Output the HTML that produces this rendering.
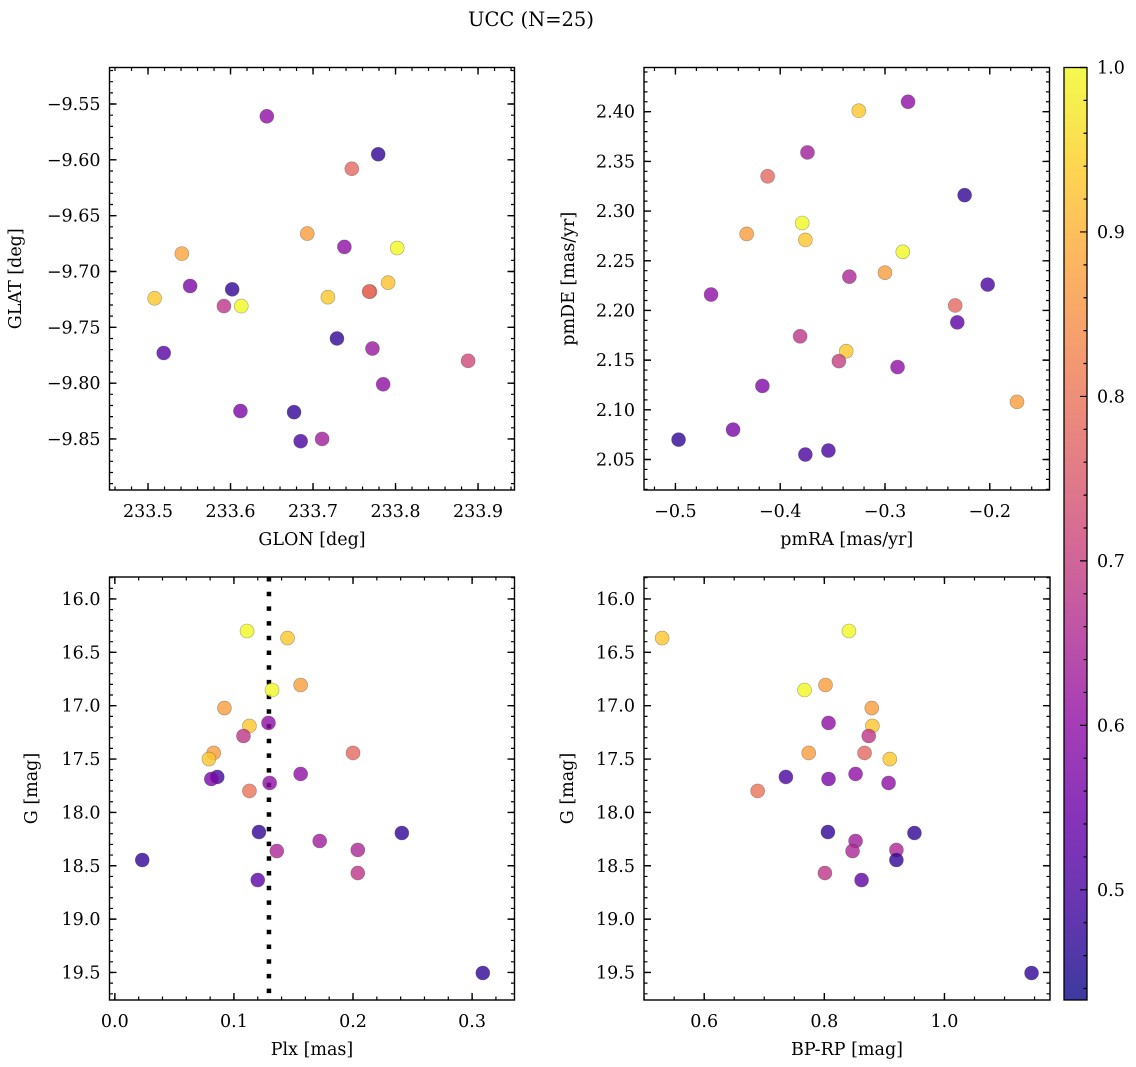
<!DOCTYPE html>
<html><head><meta charset="utf-8"><style>
html,body{margin:0;padding:0;background:#fff;}
svg{display:block;font-family:"DejaVu Serif","Liberation Serif",serif;}
</style></head><body>
<svg id="fig" width="1136" height="1067" viewBox="0 0 1136 1067" xmlns="http://www.w3.org/2000/svg">
<text x="531" y="26" font-size="19.5" text-anchor="middle" fill="#000">UCC (N=25)</text>
</svg>
<script>
// ---- data ----
const glon = [233.644,233.779,233.747,233.693,233.738,233.802,233.541,233.551,233.602,233.508,233.592,233.613,233.718,233.769,233.768,233.791,233.519,233.729,233.772,233.888,233.785,233.612,233.677,233.685,233.711];
const glat = [-9.561,-9.595,-9.608,-9.666,-9.678,-9.679,-9.684,-9.713,-9.716,-9.724,-9.731,-9.731,-9.723,-9.718,-9.718,-9.710,-9.773,-9.760,-9.769,-9.780,-9.801,-9.825,-9.826,-9.852,-9.850];
const cTL = [0.60,0.47,0.78,0.87,0.60,1.00,0.88,0.57,0.47,0.93,0.68,1.00,0.93,0.82,0.78,0.92,0.52,0.47,0.62,0.72,0.60,0.57,0.47,0.50,0.63];

const pmra = [-0.278,-0.325,-0.374,-0.412,-0.224,-0.379,-0.432,-0.376,-0.283,-0.300,-0.334,-0.466,-0.202,-0.233,-0.231,-0.381,-0.337,-0.344,-0.288,-0.417,-0.174,-0.445,-0.497,-0.354,-0.376];
const pmde = [2.410,2.401,2.359,2.335,2.316,2.288,2.277,2.271,2.259,2.238,2.234,2.216,2.226,2.205,2.188,2.174,2.159,2.149,2.143,2.124,2.108,2.080,2.070,2.059,2.055];
const cTR = [0.60,0.93,0.63,0.78,0.47,1.00,0.87,0.93,1.00,0.87,0.65,0.60,0.50,0.78,0.53,0.68,0.93,0.70,0.60,0.58,0.87,0.57,0.47,0.50,0.50];

const plx = [0.111,0.145,0.132,0.156,0.092,0.113,0.129,0.108,0.083,0.079,0.200,0.086,0.081,0.156,0.130,0.113,0.121,0.241,0.172,0.136,0.204,0.023,0.204,0.120,0.309];
const gBL = [16.300,16.366,16.853,16.806,17.022,17.190,17.162,17.284,17.443,17.500,17.443,17.668,17.687,17.640,17.724,17.799,18.184,18.193,18.268,18.362,18.352,18.446,18.568,18.634,19.505];
const cBL = [1.00,0.93,1.00,0.87,0.87,0.93,0.60,0.68,0.87,0.93,0.78,0.50,0.57,0.60,0.60,0.80,0.47,0.47,0.63,0.65,0.65,0.47,0.68,0.53,0.47];

const bprp = [0.530,0.841,0.767,0.802,0.879,0.807,0.880,0.874,0.774,0.867,0.909,0.736,0.807,0.852,0.907,0.689,0.806,0.950,0.852,0.847,0.920,0.920,0.801,0.862,1.145];
const gBR = [16.366,16.300,16.853,16.806,17.022,17.162,17.190,17.284,17.443,17.443,17.500,17.668,17.687,17.640,17.724,17.799,18.184,18.193,18.268,18.362,18.352,18.446,18.568,18.634,19.505];
const cBR = [0.93,1.00,1.00,0.87,0.87,0.60,0.93,0.68,0.87,0.78,0.93,0.50,0.57,0.60,0.60,0.80,0.47,0.47,0.63,0.65,0.65,0.47,0.68,0.53,0.47];

const plxLine = [0.1294];

const ticksTLx = [233.5,233.6,233.7,233.8,233.9];
const ticksTLy = [-9.55,-9.60,-9.65,-9.70,-9.75,-9.80,-9.85];
const ticksTRx = [-0.5,-0.4,-0.3,-0.2];
const ticksTRy = [2.05,2.10,2.15,2.20,2.25,2.30,2.35,2.40];
const ticksBLx = [0.0,0.1,0.2,0.3];
const ticksGy = [16.0,16.5,17.0,17.5,18.0,18.5,19.0,19.5];
const ticksBRx = [0.6,0.8,1.0];
const ticksCbar = [0.5,0.6,0.7,0.8,0.9,1.0];
const cMin = 0.433, cMax = 1.0;

// ---- helpers ----
const NS = "http://www.w3.org/2000/svg";
const svg = document.getElementById('fig');
function mk(tag, attrs, parent){
  const e = document.createElementNS(NS, tag);
  for (const k in attrs) e.setAttribute(k, attrs[k]);
  (parent||svg).appendChild(e);
  return e;
}
const plasma = [[13,8,135],[65,4,157],[106,0,168],[143,13,164],[177,42,144],[204,71,120],[225,100,98],[242,132,75],[252,166,54],[252,206,37],[240,249,33]];
function cmap(t){
  t = Math.max(0, Math.min(1, t));
  const f = t*10, i = Math.min(9, Math.floor(f)), r = f - i;
  const a = plasma[i], b = plasma[i+1];
  return 'rgb(' + [0,1,2].map(k => Math.round(a[k]+(b[k]-a[k])*r)).join(',') + ')';
}
function fmt(v, d){ const s = Math.abs(v).toFixed(d); return (v < -1e-9 ? '\u2212' : '') + s; }

function panel(cfg){
  const g = mk('g', {});
  
  
  const sx = v => cfg.px0 + (v - cfg.xmin)/(cfg.xmax - cfg.xmin)*(cfg.px1 - cfg.px0);
  const sy = v => cfg.py0 + (v - cfg.ytop)/(cfg.ybot - cfg.ytop)*(cfg.py1 - cfg.py0);
  const mt = [];
  const x0 = Math.min(cfg.xmin,cfg.xmax), x1 = Math.max(cfg.xmin,cfg.xmax);
  for (let v = Math.ceil(x0/cfg.xminor)*cfg.xminor; v <= x1; v += cfg.xminor){
    const p = sx(v); mt.push(`M${p},${cfg.py1}v-3.5M${p},${cfg.py0}v3.5`);
  }
  const y0 = Math.min(cfg.ytop,cfg.ybot), y1 = Math.max(cfg.ytop,cfg.ybot);
  for (let v = Math.ceil(y0/cfg.yminor - 1e-6)*cfg.yminor; v <= y1; v += cfg.yminor){
    const p = sy(v); mt.push(`M${cfg.px0},${p}h3.5M${cfg.px1},${p}h-3.5`);
  }
  const minor = mk('path', {d: mt.join(''), stroke:'#000', 'stroke-width':1.2, fill:'none'}, g);
  
  
  const MT = [];
  cfg.xticks.forEach(v => { const p = sx(v); MT.push(`M${p},${cfg.py1}v-7M${p},${cfg.py0}v7`); });
  cfg.yticks.forEach(v => { const p = sy(v); MT.push(`M${cfg.px0},${p}h7M${cfg.px1},${p}h-7`); });
  const major = mk('path', {d: MT.join(''), stroke:'#000', 'stroke-width':1.4, fill:'none'}, g);
  
  
  cfg.xticks.forEach(v => {
    const t = mk('text', {x: sx(v), y: cfg.py1 + 27, 'font-size':17.5, 'text-anchor':'middle'}, g);
    
    
    t.textContent = fmt(v, cfg.xdec);
  });
  cfg.yticks.forEach(v => {
    const t = mk('text', {x: cfg.px0 - 9, y: sy(v) + 6, 'font-size':17.5, 'text-anchor':'end'}, g);
    
    
    t.textContent = fmt(v, cfg.ydec);
  });
  if (cfg.vline){
    cfg.vline.forEach(v => {
      const l = mk('line', {x1: sx(v), x2: sx(v), y1: cfg.py0, y2: cfg.py1, stroke:'#000', 'stroke-width':4.5, 'stroke-dasharray':'4.5 10.2'}, g);
      
      
    });
  }
  cfg.xs.forEach((v, i) => {
    const c = mk('circle', {cx: sx(v), cy: sy(cfg.ys[i]), r: 7, fill: cmap((cfg.cs[i]-cMin)/(cMax-cMin)), 'fill-opacity':0.8, stroke:'rgba(60,60,60,0.45)', 'stroke-width':0.6}, g);
    
    
  });
  const fr = mk('rect', {x: cfg.px0, y: cfg.py0, width: cfg.px1 - cfg.px0, height: cfg.py1 - cfg.py0, fill:'none', stroke:'#000', 'stroke-width':1.4}, g);
  
  
  const xl = mk('text', {x: (cfg.px0+cfg.px1)/2, y: cfg.py1 + 55, 'font-size':17.5, 'text-anchor':'middle'}, g);
  
  
  xl.textContent = cfg.xlabel;
  const yx = cfg.ylabX, yy = (cfg.py0+cfg.py1)/2;
  const yl = mk('text', {x: yx, y: yy, 'font-size':17.5, 'text-anchor':'middle', transform:`rotate(-90 ${yx} ${yy})`}, g);
  
  
  yl.textContent = cfg.ylabel;
}

panel({name:'glon-glat-panel', px0:109.5, px1:514.5, py0:67.5, py1:490, xmin:233.4533, xmax:233.9442, ytop:-9.5173, ybot:-9.8957,
  xticks:ticksTLx, yticks:ticksTLy, xminor:0.02, yminor:0.01, xdec:1, ydec:2, xs:glon, ys:glat, cs:cTL, xlabel:'GLON [deg]', ylabel:'GLAT [deg]', ylabX:21});
panel({name:'pm-panel', px0:644, px1:1049.5, py0:67.5, py1:490, xmin:-0.530, xmax:-0.143, ytop:2.4445, ybot:2.0193,
  xticks:ticksTRx, yticks:ticksTRy, xminor:0.02, yminor:0.01, xdec:1, ydec:2, xs:pmra, ys:pmde, cs:cTR, xlabel:'pmRA [mas/yr]', ylabel:'pmDE [mas/yr]', ylabX:574});
panel({name:'plx-g-panel', px0:109.5, px1:514.5, py0:577, py1:1000, xmin:-0.0045, xmax:0.3356, ytop:15.794, ybot:19.758,
  xticks:ticksBLx, yticks:ticksGy, xminor:0.02, yminor:0.1, xdec:1, ydec:1, xs:plx, ys:gBL, cs:cBL, xlabel:'Plx [mas]', ylabel:'G [mag]', ylabX:37, vline:plxLine});
panel({name:'cmd-panel', px0:644, px1:1050, py0:577, py1:1000, xmin:0.4998, xmax:1.1757, ytop:15.794, ybot:19.758,
  xticks:ticksBRx, yticks:ticksGy, xminor:0.05, yminor:0.1, xdec:1, ydec:1, xs:bprp, ys:gBR, cs:cBR, xlabel:'BP-RP [mag]', ylabel:'G [mag]', ylabX:573});

// ---- colorbar ----
(function(){
  const cx0 = 1064, cx1 = 1087, cy0 = 67.5, cy1 = 1000;
  const cb = mk('g', {});
  
  
  const defs = mk('defs', {}, cb);
  const lg = mk('linearGradient', {id:'cbg', x1:0, y1:1, x2:0, y2:0}, defs);
  for (let i = 0; i <= 20; i++){
    mk('stop', {offset: i/20, 'stop-color': cmap(i/20), 'stop-opacity': 0.8}, lg);
  }
  const sy = v => cy1 - (v - cMin)/(cMax - cMin)*(cy1 - cy0);
  const r = mk('rect', {x: cx0, y: cy0, width: cx1-cx0, height: cy1-cy0, fill:'url(#cbg)', stroke:'#000', 'stroke-width':1.3}, cb);
  
  
  let d = '';
  for (let v = Math.ceil(cMin/0.02)*0.02; v <= cMax + 1e-6; v += 0.02) d += `M${cx1},${sy(v)}h-3.5`;
  ticksCbar.forEach(v => { d += `M${cx1},${sy(v)}h-7`; });
  const tk = mk('path', {d: d, stroke:'#000', 'stroke-width':1.2, fill:'none'}, cb);
  
  
  ticksCbar.forEach(v => {
    const t = mk('text', {x: cx1 + 10, y: sy(v) + 6, 'font-size':17.5}, cb);
    
    
    t.textContent = v.toFixed(1);
  });
})();
</script>
</body></html>
